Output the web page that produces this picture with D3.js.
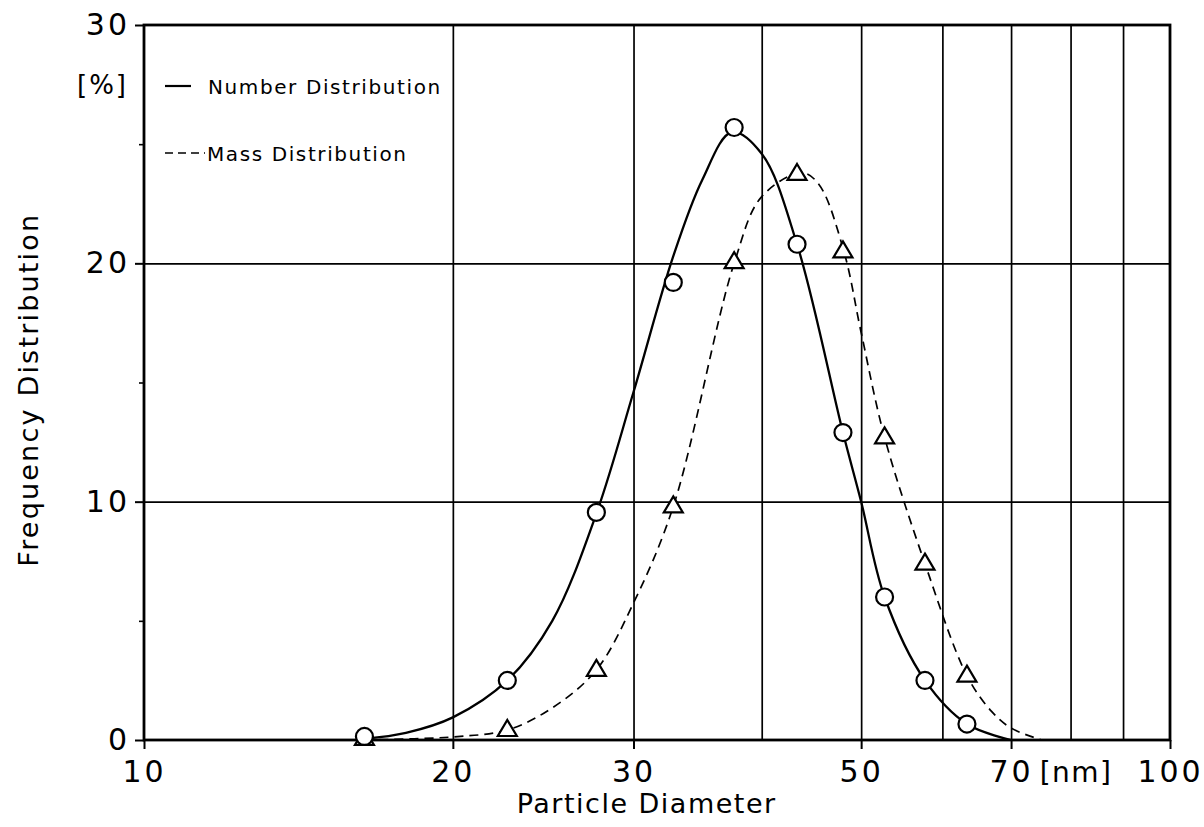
<!DOCTYPE html>
<html>
<head>
<meta charset="utf-8">
<script src="https://cdn.jsdelivr.net/npm/d3@7"></script>
<style>
	body { margin: 0; background: #fff; }
	text { font-family: 'DejaVu Sans', sans-serif; fill: #000; }
</style>
</head>
<body>
<svg id="chart" width="1204" height="827"></svg>
<script>
// measured points (diameter in nm, frequency in %)
const diameters = [16.4, 22.6, 27.6, 32.8, 37.6, 43.3, 48.0, 52.7, 57.7, 63.4];
const numberValues = [0.15, 2.5, 9.55, 19.2, 25.7, 20.8, 12.9, 6.0, 2.5, 0.67];
const massValues = [0.05, 0.42, 2.94, 9.8, 20.05, 23.75, 20.5, 12.7, 7.4, 2.7];

// smooth curves
const numberCurveD = [16.4, 18, 20, 22.6, 25, 27.6, 30, 32.8, 35, 37.4, 40, 43.3, 48.0, 50, 52.7, 57.7, 63.4, 70];
const numberCurveV = [0.05, 0.3, 0.95, 2.5, 5.0, 9.5, 14.6, 20.3, 23.5, 25.5, 24.6, 20.8, 12.9, 10.0, 6.0, 2.5, 0.67, 0];
const massCurveD = [16.4, 20, 22.6, 25, 27.6, 30, 32.8, 37.6, 40, 43.8, 45.5, 48.1, 50, 52.7, 57.7, 63.4, 67, 70, 75];
const massCurveV = [0, 0.13, 0.42, 1.35, 2.94, 5.75, 9.8, 20.0, 22.8, 23.8, 23.3, 20.5, 17.1, 12.7, 7.4, 2.7, 1.2, 0.5, 0];

const xLabelTicks = [10, 20, 30, 50, 70, 100];
const xGridTicks = [20, 30, 40, 50, 60, 70, 80, 90];
const yLabelTicks = [0, 10, 20, 30];
const yMinorTicks = [5, 15, 25];
const yGridTicks = [10, 20];

const margin = { left: 144, top: 25, right: 34, bottom: 87 };
const width = 1204 - margin.left - margin.right;
const height = 827 - margin.top - margin.bottom;

const svg = d3.select('#chart');
const g = svg.append('g')
	.attr('transform', `translate(${margin.left},${margin.top})`);

const x = d3.scaleLog().domain([10, 100]).range([0, width]);
const y = d3.scaleLinear().domain([0, 30]).range([height, 0]);

// grid
g.append('g')
	.attr('transform', `translate(0,${height})`)
	.call(d3.axisBottom(x).tickValues(xGridTicks).tickSize(-height).tickFormat(''))
	.call(s => s.select('.domain').remove())
	.call(s => s.selectAll('line').attr('stroke', '#000').attr('stroke-width', 1.7));

g.append('g')
	.call(d3.axisLeft(y).tickValues(yGridTicks).tickSize(-width).tickFormat(''))
	.call(s => s.select('.domain').remove())
	.call(s => s.selectAll('line').attr('stroke', '#000').attr('stroke-width', 1.7));

// frame
g.append('rect')
	.attr('width', width)
	.attr('height', height)
	.attr('fill', 'none')
	.attr('stroke', '#000')
	.attr('stroke-width', 2.8);

// x axis
const xAxis = g.append('g')
	.attr('transform', `translate(0,${height})`)
	.call(d3.axisBottom(x).tickValues(xLabelTicks).tickSize(9).tickPadding(12).tickFormat(d3.format('d')));
xAxis.select('.domain').remove();
xAxis.selectAll('line').attr('stroke', '#000').attr('stroke-width', 2);
xAxis.selectAll('text')
	.style('font-size', '30px')
	.style('letter-spacing', '3px');

// y axis
const yAxis = g.append('g')
	.call(d3.axisLeft(y).tickValues(yLabelTicks).tickSize(9).tickPadding(5).tickFormat(d3.format('d')));
yAxis.select('.domain').remove();
yAxis.selectAll('line').attr('stroke', '#000').attr('stroke-width', 2);
yAxis.selectAll('text')
	.style('font-size', '30px')
	.style('letter-spacing', '3px');

g.append('g')
	.call(d3.axisLeft(y).tickValues(yMinorTicks).tickSize(5).tickFormat(''))
	.call(s => s.select('.domain').remove())
	.call(s => s.selectAll('line').attr('stroke', '#000').attr('stroke-width', 1.6));

// unit labels
g.append('text')
	.attr('x', -16)
	.attr('y', y(27.1))
	.attr('text-anchor', 'end')
	.style('font-size', '26px')
	.style('letter-spacing', '2px')
	.text('[%]');

g.append('text')
	.attr('x', x(81))
	.attr('y', height + 9 + 12 + 21)
	.attr('text-anchor', 'middle')
	.style('font-size', '28px')
	.style('letter-spacing', '1.5px')
	.text('[nm]');

// axis titles
svg.append('text')
	.attr('x', margin.left + x(30.9))
	.attr('y', 813)
	.attr('text-anchor', 'middle')
	.style('font-size', '27px')
	.style('letter-spacing', '1.5px')
	.text('Particle Diameter');

svg.append('text')
	.attr('transform', `translate(38,${margin.top + y(14.7)}) rotate(-90)`)
	.attr('text-anchor', 'middle')
	.style('font-size', '27px')
	.style('letter-spacing', '2.2px')
	.text('Frequency Distribution');

// curves
const line = d3.line()
	.x(d => x(d[0]))
	.y(d => y(d[1]))
	.curve(d3.curveCatmullRom.alpha(0.5));

g.append('path')
	.datum(numberCurveD.map((d, i) => [d, numberCurveV[i]]))
	.attr('d', line)
	.attr('fill', 'none')
	.attr('stroke', '#000')
	.attr('stroke-width', 2.3);

g.append('path')
	.datum(massCurveD.map((d, i) => [d, massCurveV[i]]))
	.attr('d', line)
	.attr('fill', 'none')
	.attr('stroke', '#000')
	.attr('stroke-width', 1.7)
	.attr('stroke-dasharray', '9,6');

// markers
g.selectAll('.tri')
	.data(diameters.map((d, i) => [d, massValues[i]]))
	.join('path')
	.attr('class', 'tri')
	.attr('transform', d => `translate(${x(d[0])},${y(d[1])})`)
	.attr('d', 'M0,-10L9.5,6L-9.5,6Z')
	.attr('fill', '#fff')
	.attr('stroke', '#000')
	.attr('stroke-width', 2.2);

g.selectAll('.dot')
	.data(diameters.map((d, i) => [d, numberValues[i]]))
	.join('circle')
	.attr('class', 'dot')
	.attr('cx', d => x(d[0]))
	.attr('cy', d => y(d[1]))
	.attr('r', 8.5)
	.attr('fill', '#fff')
	.attr('stroke', '#000')
	.attr('stroke-width', 2.2);

// legend
const legend = g.append('g')
	.attr('transform', 'translate(21,61)');

legend.append('line')
	.attr('x1', 0).attr('x2', 26)
	.attr('y1', 0).attr('y2', 0)
	.attr('stroke', '#000')
	.attr('stroke-width', 2.2);
legend.append('text')
	.attr('x', 43)
	.attr('y', 8)
	.style('font-size', '20px')
	.style('letter-spacing', '1.6px')
	.text('Number Distribution');

legend.append('line')
	.attr('x1', 0).attr('x2', 40)
	.attr('y1', 67).attr('y2', 67)
	.attr('stroke', '#000')
	.attr('stroke-width', 1.7)
	.attr('stroke-dasharray', '8,5');
legend.append('text')
	.attr('x', 42)
	.attr('y', 75)
	.style('font-size', '20px')
	.style('letter-spacing', '1.6px')
	.text('Mass Distribution');
</script>
</body>
</html>
